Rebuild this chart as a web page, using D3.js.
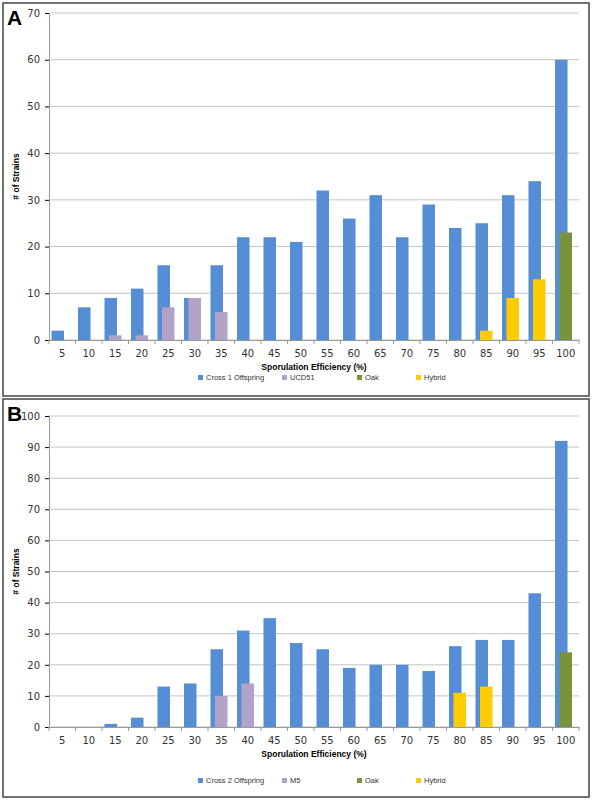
<!DOCTYPE html>
<html><head><meta charset="utf-8">
<script src="https://cdn.jsdelivr.net/npm/d3@7"></script>
<style>body{margin:0;background:#fff}</style>
</head><body>
<svg id="chart" width="592" height="800"></svg>
<script>
'use strict'

const categories = ['5','10','15','20','25','30','35','40','45','50','55','60','65','70','75','80','85','90','95','100']

const crossA = [2,7,9,11,16,9,16,22,22,21,32,26,31,22,29,24,25,31,34,60]
const parentA = [0,0,1,1,7,9,6,0,0,0,0,0,0,0,0,0,0,0,0,0]
const oakA = [0,0,0,0,0,0,0,0,0,0,0,0,0,0,0,0,0,0,0,23]
const hybridA = [0,0,0,0,0,0,0,0,0,0,0,0,0,0,0,0,2,9,13,0]

const crossB = [0,0,1,3,13,14,25,31,35,27,25,19,20,20,18,26,28,28,43,92]
const parentB = [0,0,0,0,0,0,10,14,0,0,0,0,0,0,0,0,0,0,0,0]
const oakB = [0,0,0,0,0,0,0,0,0,0,0,0,0,0,0,0,0,0,0,24]
const hybridB = [0,0,0,0,0,0,0,0,0,0,0,0,0,0,0,11,13,0,0,0]

const colors = ['#558ed5', '#b3a2c7', '#77933c', '#ffcc00']

const svg = d3.select('#chart')

function panel(o) {
  const g = svg.append('g')
  g.append('rect').attr('x', 3).attr('y', o.boxTop).attr('width', 586).attr('height', o.boxH)
    .attr('fill', 'none').attr('stroke', '#444').attr('stroke-width', 1.5)
  g.append('text').attr('x', 7).attr('y', o.boxTop + 22).text(o.letter)
    .style('font', 'bold 21px Liberation Sans, Arial')

  const x = d3.scaleBand().domain(categories).range([49, 579])
  const y = d3.scaleLinear().domain([0, o.max]).range([o.y0, o.yTop])

  // gridlines
  g.append('g').selectAll('line').data(y.ticks(o.max / 10)).enter().append('line')
    .attr('x1', 49).attr('x2', 579).attr('y1', d => y(d)).attr('y2', d => y(d))
    .attr('stroke', '#c4c4c4')

  const yAxis = g.append('g').attr('transform', 'translate(49,0)')
    .call(d3.axisLeft(y).ticks(o.max / 10).tickSize(4).tickPadding(5))
  const xAxis = g.append('g').attr('transform', `translate(0,${o.y0})`)
    .call(d3.axisBottom(x).tickSize(0).tickPadding(10))
  ;[yAxis, xAxis].forEach(a => {
    a.selectAll('text').style('font', '10px DejaVu Sans').attr('fill', '#333')
    a.select('.domain').attr('stroke', '#999')
  })
  // x ticks between categories
  g.append('g').selectAll('line').data(categories.concat([''])).enter().append('line')
    .attr('x1', (d, i) => 49 + i * x.step()).attr('x2', (d, i) => 49 + i * x.step())
    .attr('y1', o.y0).attr('y2', o.y0 + 4).attr('stroke', '#999')

  const series = [o.cross, o.parent, o.oak, o.hybrid]
  const offsets = [2.5, 7, 7, 7]
  series.forEach((vals, s) => {
    const pts = vals.map((v, i) => ({ cat: categories[i], v })).filter(d => d.v > 0)
    g.append('g').selectAll('rect').data(pts).enter().append('rect')
      .attr('x', d => x(d.cat) + offsets[s])
      .attr('width', 12.5)
      .attr('y', d => y(d.v))
      .attr('height', d => o.y0 - y(d.v))
      .attr('fill', colors[s])
  })

  g.append('text').attr('x', 19).attr('y', (o.y0 + o.yTop) / 2)
    .attr('transform', `rotate(-90,19,${(o.y0 + o.yTop) / 2})`)
    .attr('text-anchor', 'middle').text('# of Strains')
    .style('font', 'bold 8.5px Liberation Sans, Arial')
  g.append('text').attr('x', 314).attr('y', o.y0 + 30).attr('text-anchor', 'middle')
    .text('Sporulation Efficiency (%)').style('font', 'bold 8.5px Liberation Sans, Arial')

  const lx = [198, 282, 357, 416]
  o.names.forEach((n, i) => {
    g.append('rect').attr('x', lx[i]).attr('y', o.legY - 5).attr('width', 5).attr('height', 5).attr('fill', colors[i])
    g.append('text').attr('x', lx[i] + 8).attr('y', o.legY).text(n)
      .style('font', '7.5px Liberation Sans, Arial').attr('fill', '#333')
  })
}

panel({ letter: 'A', boxTop: 3, boxH: 393, max: 70, yTop: 13, y0: 340, legY: 380,
  cross: crossA, parent: parentA, oak: oakA, hybrid: hybridA,
  names: ['Cross 1 Offspring', 'UCD51', 'Oak', 'Hybrid'] })
panel({ letter: 'B', boxTop: 399, boxH: 398, max: 100, yTop: 416, y0: 727, legY: 783,
  cross: crossB, parent: parentB, oak: oakB, hybrid: hybridB,
  names: ['Cross 2 Offspring', 'M5', 'Oak', 'Hybrid'] })
</script>
</body></html>
